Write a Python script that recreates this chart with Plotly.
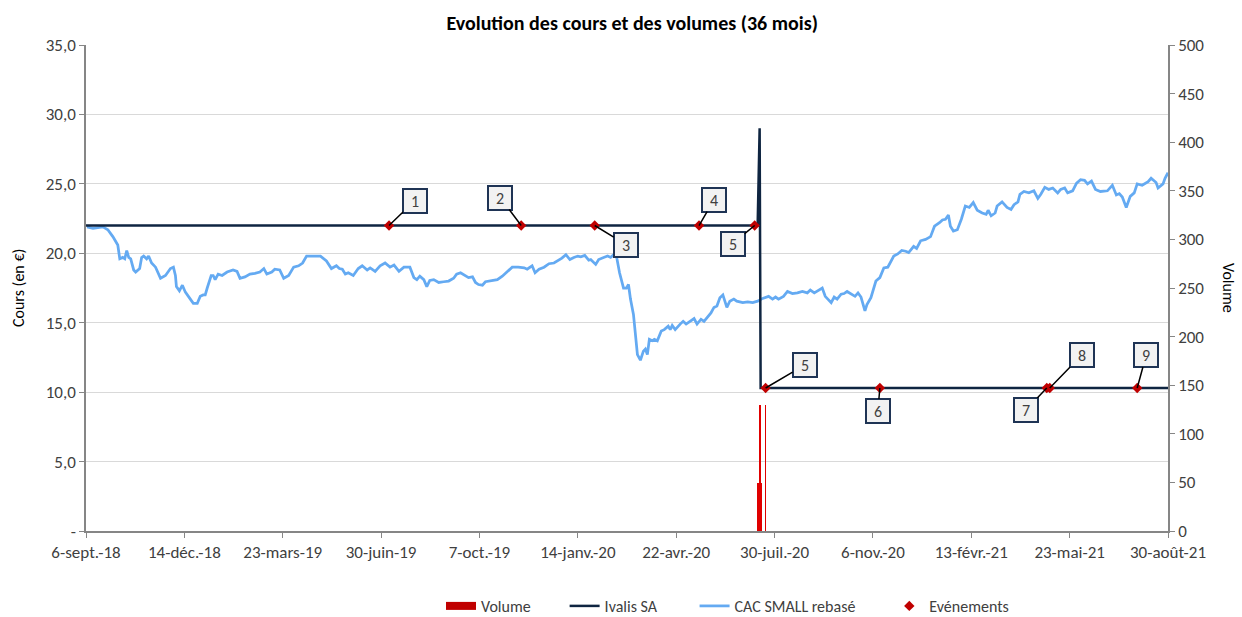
import pandas as pd
import plotly.graph_objects as go

START = pd.Timestamp("2018-09-06")
END = pd.Timestamp("2021-08-30")

# ---- X-axis tick labels (every 99 days) ----
tick_dates = ["2018-09-06", "2018-12-14", "2019-03-23", "2019-06-30", "2019-10-07",
              "2020-01-14", "2020-04-22", "2020-07-30", "2020-11-06", "2021-02-13",
              "2021-05-23", "2021-08-30"]
tick_labels = ["6-sept.-18", "14-déc.-18", "23-mars-19", "30-juin-19", "7-oct.-19",
               "14-janv.-20", "22-avr.-20", "30-juil.-20", "6-nov.-20", "13-févr.-21",
               "23-mai-21", "30-août-21"]

# ---- CAC SMALL rebasé (days since 6-sept.-18, value) ----
cac_day = [1, 7, 17, 22, 27, 32, 34, 37, 39, 41, 43, 45, 48, 50, 54, 56, 58, 61, 63, 66,
           70, 75, 80, 83, 85, 88, 90, 91, 94, 97, 100, 105, 108, 112, 115, 118, 120, 122, 126, 128,
           130, 133, 137, 142, 148, 152, 155, 160, 165, 170, 175, 179, 182, 187, 190, 195, 199, 204, 209, 214,
           218, 222, 229, 233, 236, 242, 247, 252, 255, 258, 261, 264, 269, 274, 278, 283, 286, 291, 296, 301,
           306, 310, 315, 320, 326, 330, 333, 336, 340, 343, 346, 350, 355, 360, 365, 370, 373, 377, 382, 385,
           389, 392, 395, 399, 402, 407, 414, 419, 424, 429, 435, 441, 444, 449, 452, 456, 461, 466, 471, 476,
           479, 483, 487, 491, 495, 498, 502, 506, 508, 513, 516, 521, 525, 528, 531, 534, 537, 541, 544, 546,
           548, 551, 553, 555, 558, 561, 563, 565, 567, 570, 572, 575, 579, 582, 586, 588, 590, 593, 598, 601,
           604, 608, 612, 615, 619, 622, 625, 629, 632, 635, 638, 641, 645, 648, 652, 655, 661, 666, 671, 676,
           681, 685, 687, 691, 694, 697, 702, 706, 711, 716, 721, 726, 729, 733, 737, 741, 744, 748, 750, 753,
           756, 760, 763, 766, 770, 774, 777, 780, 784, 786, 790, 795, 799, 803, 807, 813, 817, 821, 825, 828,
           833, 836, 840, 845, 850, 854, 859, 862, 865, 868, 870, 873, 877, 881, 885, 889, 893, 897, 902, 906,
           908, 911, 915, 917, 922, 927, 931, 934, 938, 940, 944, 949, 954, 958, 961, 965, 969, 973, 978, 981,
           985, 988, 993, 997, 1001, 1005, 1008, 1012, 1016, 1021, 1028, 1033, 1037, 1040, 1043, 1047, 1051, 1055, 1058, 1063,
           1069, 1072, 1077, 1079, 1084, 1086, 1089]
cac_value = [21.9, 21.8, 21.9, 21.7, 21.2, 20.6, 19.6, 19.7, 19.6, 20.2, 19.7, 19.6, 18.8, 18.65, 18.9, 19.7, 19.8, 19.6, 19.8, 19.3,
             19.0, 18.2, 18.4, 18.7, 18.9, 19.0, 18.4, 17.6, 17.3, 17.7, 17.2, 16.7, 16.4, 16.4, 16.9, 17.0, 17.0, 17.5, 18.4, 18.4,
             18.1, 18.5, 18.4, 18.65, 18.8, 18.7, 18.2, 18.3, 18.5, 18.55, 18.65, 18.9, 18.5, 18.65, 18.85, 18.8, 18.2, 18.4, 19.0, 19.1,
             19.3, 19.8, 19.8, 19.75, 19.8, 19.45, 18.9, 19.1, 18.9, 18.85, 18.5, 18.6, 18.4, 18.9, 19.1, 18.8, 18.95, 18.7, 19.1, 19.3,
             19.0, 19.15, 18.7, 19.0, 19.0, 18.25, 18.1, 18.35, 18.1, 17.6, 18.05, 18.1, 17.9, 17.95, 18.0, 18.2, 18.5, 18.6, 18.35, 18.25,
             18.3, 17.9, 17.75, 17.7, 17.95, 18.0, 18.1, 18.35, 18.7, 19.0, 19.0, 18.95, 18.85, 19.1, 18.6, 18.85, 19.0, 19.25, 19.3, 19.5,
             19.65, 19.9, 19.55, 19.7, 19.8, 19.75, 19.85, 19.5, 19.55, 19.2, 19.55, 19.7, 19.8, 19.7, 19.9, 19.75, 18.6, 17.5, 17.5, 17.75,
             16.7, 15.6, 13.9, 12.7, 12.3, 12.95, 13.1, 12.7, 13.8, 13.7, 13.8, 13.7, 14.4, 14.5, 14.75, 14.5, 14.8, 14.5, 14.9, 15.1,
             14.9, 15.1, 15.3, 14.9, 15.25, 15.1, 15.35, 15.7, 16.1, 16.2, 16.8, 17.0, 16.1, 16.55, 16.7, 16.55, 16.45, 16.5, 16.45, 16.55,
             16.75, 16.85, 16.9, 16.7, 16.85, 16.7, 16.9, 17.25, 17.1, 17.15, 17.25, 17.15, 17.35, 17.15, 17.3, 17.5, 16.9, 16.55, 16.45, 16.85,
             16.7, 17.05, 17.1, 17.25, 17.05, 16.9, 17.15, 16.85, 15.85, 16.3, 16.8, 18.0, 18.25, 18.95, 19.0, 19.8, 19.95, 20.2, 20.15, 20.05,
             20.5, 20.35, 20.9, 21.0, 21.2, 21.95, 22.2, 22.4, 22.45, 22.75, 21.95, 21.6, 21.7, 22.45, 23.4, 23.3, 23.65, 23.1, 22.9, 22.8,
             23.1, 22.7, 22.9, 23.4, 23.7, 23.3, 23.15, 23.5, 23.7, 24.25, 24.45, 24.35, 24.5, 23.95, 24.25, 24.75, 24.6, 24.7, 24.35, 24.6,
             24.7, 24.35, 24.5, 25.05, 25.3, 25.25, 25.0, 25.2, 24.6, 24.45, 24.5, 24.9, 24.2, 24.3, 24.05, 23.3, 24.1, 24.35, 25.0, 24.9,
             25.15, 25.4, 25.1, 24.7, 25.0, 25.4, 25.8]

# ---- Ivalis SA (price, €) ----
ivalis_dates = ["2018-09-06", "2020-07-13", "2020-07-15", "2020-07-16", "2021-08-30"]
ivalis_values = [22.0, 22.0, 29.0, 10.3, 10.3]

# ---- Volume ----
volume_dates = ["2020-07-13", "2020-07-15", "2020-07-16", "2020-07-21"]
volume_values = [49, 130, 49, 130]

# ---- Evénements ----
event_dates = ["2019-07-08", "2019-11-18", "2020-01-31", "2020-05-15", "2020-07-10",
               "2020-07-21", "2020-11-13", "2021-04-30", "2021-05-03", "2021-07-30"]
event_values = [22.0, 22.0, 22.0, 22.0, 22.0, 10.3, 10.3, 10.3, 10.3, 10.3]
event_labels = ["1", "2", "3", "4", "5", "5", "6", "7", "8", "9"]
# label box offsets in pixels (style)
label_offsets = [(26, -25), (-21, -28), (31, 19), (15, -26), (-22, 18),
                 (39, -23), (-2, 23), (-21, 22), (32, -33), (9, -33)]

FONT = "Calibri, Carlito, Lato, sans-serif"
TXT = "#404040"
AXC = "#868686"
NB = "\u00a0"

cac_dates = [START + pd.Timedelta(days=d) for d in cac_day]

fig = go.Figure()
fig.add_trace(go.Bar(x=volume_dates, y=volume_values, name="Volume", yaxis="y2",
                     marker=dict(color="#e00000", line=dict(width=0)),
                     width=0.8 * 86400000, showlegend=False))
# legend entry for Volume drawn as a wide red swatch
fig.add_trace(go.Scatter(x=[None], y=[None], name="Volume" + NB * 8, mode="lines",
                         line=dict(color="#c00000", width=8), legendrank=1, hoverinfo="skip"))
fig.add_trace(go.Scatter(x=cac_dates, y=cac_value, name="CAC SMALL rebasé" + NB * 8, mode="lines",
                         line=dict(color="#64aaf2", width=2.75), legendrank=3))
fig.add_trace(go.Scatter(x=ivalis_dates, y=ivalis_values, name="Ivalis SA" + NB * 9, mode="lines",
                         line=dict(color="#0f2541", width=2.5), legendrank=2))
fig.add_trace(go.Scatter(x=event_dates, y=event_values, name="Evénements", mode="markers",
                         marker=dict(symbol="diamond", color="#c00000", size=8), legendrank=4))

for d, v, lab, (ax, ay) in zip(event_dates, event_values, event_labels, label_offsets):
    fig.add_annotation(x=d, y=v, xref="x", yref="y", text=lab, showarrow=True,
                       arrowhead=0, arrowwidth=1.5, arrowcolor="#000000", ax=ax, ay=ay,
                       bgcolor="#f2f2f2", bordercolor="#1f3455", borderwidth=2, borderpad=2,
                       width=18, height=18, font=dict(family=FONT, size=16, color=TXT))

fig.add_annotation(text="Cours (en €)", xref="paper", yref="paper", x=(18 - 86) / 1082, y=0.5,
                   textangle=-90, showarrow=False, xanchor="center", yanchor="middle",
                   font=dict(family=FONT, size=16, color="#000000"))
fig.add_annotation(text="Volume", xref="paper", yref="paper", x=(1229 - 86) / 1082, y=0.5,
                   textangle=90, showarrow=False, xanchor="center", yanchor="middle",
                   font=dict(family=FONT, size=16, color="#000000"))

fig.update_layout(
    width=1242, height=617,
    margin=dict(l=86, r=74, t=45, b=86, autoexpand=False),
    paper_bgcolor="white", plot_bgcolor="white",
    font=dict(family=FONT, size=17, color=TXT),
    title=dict(text="<b>Evolution des cours et des volumes (36 mois)</b>", xref="container",
               x=0.509, xanchor="center", y=1 - 23 / 617, yanchor="middle",
               font=dict(family=FONT, size=20, color="#000000")),
    xaxis=dict(type="date", range=[START, END], tickvals=tick_dates, ticktext=tick_labels,
               showgrid=False, showline=True, linecolor=AXC, linewidth=1.5,
               ticks="outside", ticklen=5, tickcolor=AXC, zeroline=False,
               tickfont=dict(family=FONT, size=17, color=TXT)),
    yaxis=dict(range=[0, 35], tickvals=[0, 5, 10, 15, 20, 25, 30, 35],
               ticktext=["-", "5,0", "10,0", "15,0", "20,0", "25,0", "30,0", "35,0"],
               showgrid=True, gridcolor="#d9d9d9", gridwidth=1, showline=True, linecolor=AXC,
               linewidth=1.5, ticks="outside", ticklen=5, tickcolor=AXC, zeroline=False,
               tickfont=dict(family=FONT, size=17, color=TXT)),
    yaxis2=dict(range=[0, 500], tickvals=list(range(0, 501, 50)), overlaying="y", side="right",
                showgrid=False, showline=True, linecolor=AXC, linewidth=1.5, ticks="outside",
                ticklen=5, tickcolor=AXC, zeroline=False,
                tickfont=dict(family=FONT, size=17, color=TXT)),
    legend=dict(orientation="h", x=(441 - 86) / 1082, xanchor="left", y=-(606 - 531) / 486,
                yanchor="middle", font=dict(family=FONT, size=16, color=TXT), traceorder="normal",
                tracegroupgap=0),
    showlegend=True,
    bargap=0,
)

fig.write_html("out.html", config={"displayModeBar": False},
               post_script="document.body.style.margin='0';")
